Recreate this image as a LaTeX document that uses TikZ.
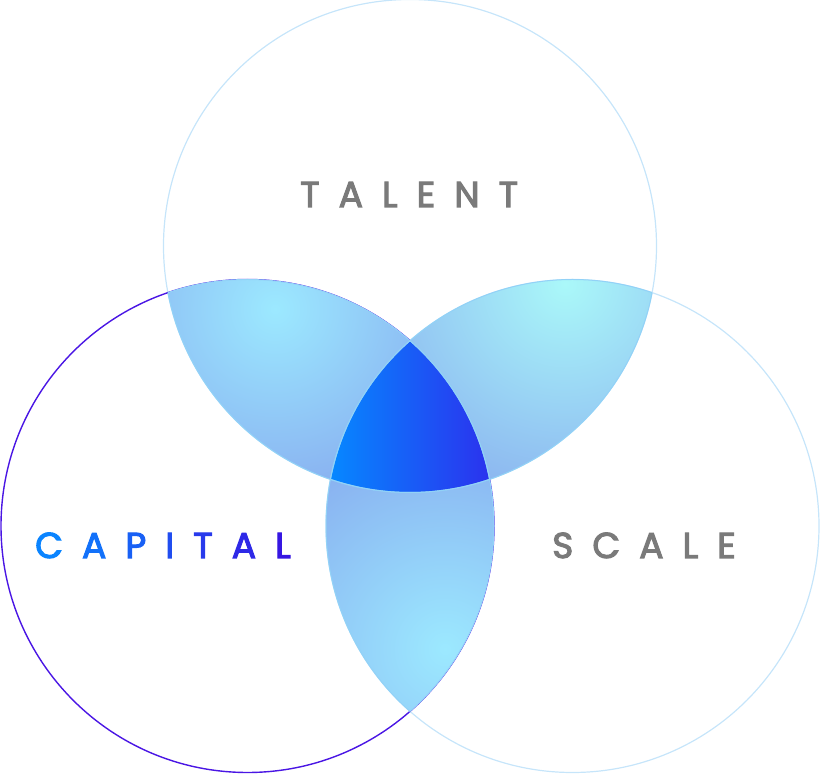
\documentclass[tikz,border=0pt]{standalone}
\usepackage{fontspec}
\setmainfont{Poppins}
\usetikzlibrary{positioning}
\definecolor{ringblue}{HTML}{C6E5FA}
\definecolor{ringviolet}{HTML}{4A16E4}
\definecolor{edgeblue}{HTML}{92D2F7}
\definecolor{petalcyan}{HTML}{9CE9FF}
\definecolor{petalaqua}{HTML}{AAF8F9}
\definecolor{petalblue}{HTML}{86A8EE}
\definecolor{coreleft}{HTML}{0688FF}
\definecolor{coreright}{HTML}{2B32EE}
\definecolor{labelgray}{HTML}{7A7A7A}
\definecolor{capleft}{HTML}{0A84FF}
\definecolor{capright}{HTML}{3616E2}
\newcommand\capchar[2]{\textcolor{capright!#1!capleft}{#2}}
\newcommand\capgap{\hspace{0.53em}}

\begin{document}
\begin{tikzpicture}[x=1pt,y=1pt,
    ring/.style={line width=1.2pt,ringblue},
    lensedge/.style={line width=1pt,edgeblue},
    setlabel/.style={inner sep=0pt,anchor=base west,
      font=\fontsize{36}{36}\selectfont\addfontfeature{LetterSpace=53,FakeBold=3}}]
  \useasboundingbox (0,0) rectangle (820,774);
  \def\ringr{246.5}
  \coordinate (T) at (410,528);
  \coordinate (L) at (247.5,248);
  \coordinate (R) at (572.5,248);
  % rings
  \draw[ring] (T) circle (\ringr);
  \draw[ring] (R) circle (\ringr);
  \draw[ring,ringviolet,line width=1.4pt] (L) circle (\ringr);
  % petals
  \begin{scope}
    \clip (T) circle (\ringr); \clip (L) circle (\ringr);
    \shade[inner color=petalcyan,outer color=petalblue] (275,465) circle (215);
  \end{scope}
  \begin{scope}
    \clip (T) circle (\ringr); \clip (R) circle (\ringr);
    \shade[inner color=petalaqua,outer color=petalblue] (565,490) circle (260);
  \end{scope}
  \begin{scope}
    \clip (L) circle (\ringr); \clip (R) circle (\ringr);
    \shade[inner color=petalcyan,outer color=petalblue] (445,125) circle (245);
  \end{scope}
  % core
  \begin{scope}
    \clip (T) circle (\ringr); \clip (L) circle (\ringr); \clip (R) circle (\ringr);
    \shade[left color=coreleft,right color=coreright] (330,278) rectangle (490,436);
  \end{scope}
  % edges of petals and core
  \foreach \a/\b in {T/L,T/R,L/T,L/R,R/T,R/L}{
    \begin{scope}
      \clip (\b) circle (\ringr);
      \draw[lensedge] (\a) circle (\ringr);
    \end{scope}
  }
  % labels
  \node (talent) [setlabel,text=labelgray] at (300,567) {TALENT};
  \node (capital) [setlabel] at (35,216) {\capchar{0}{C}\capgap\capchar{17}{A}\capgap\capchar{33}{P}\capgap\capchar{50}{I}\capgap\capchar{67}{T}\capgap\capchar{83}{A}\capgap\capchar{100}{L}};
  \node (scale) [setlabel,text=labelgray] at (552,216) {SCALE};
\end{tikzpicture}
\end{document}
